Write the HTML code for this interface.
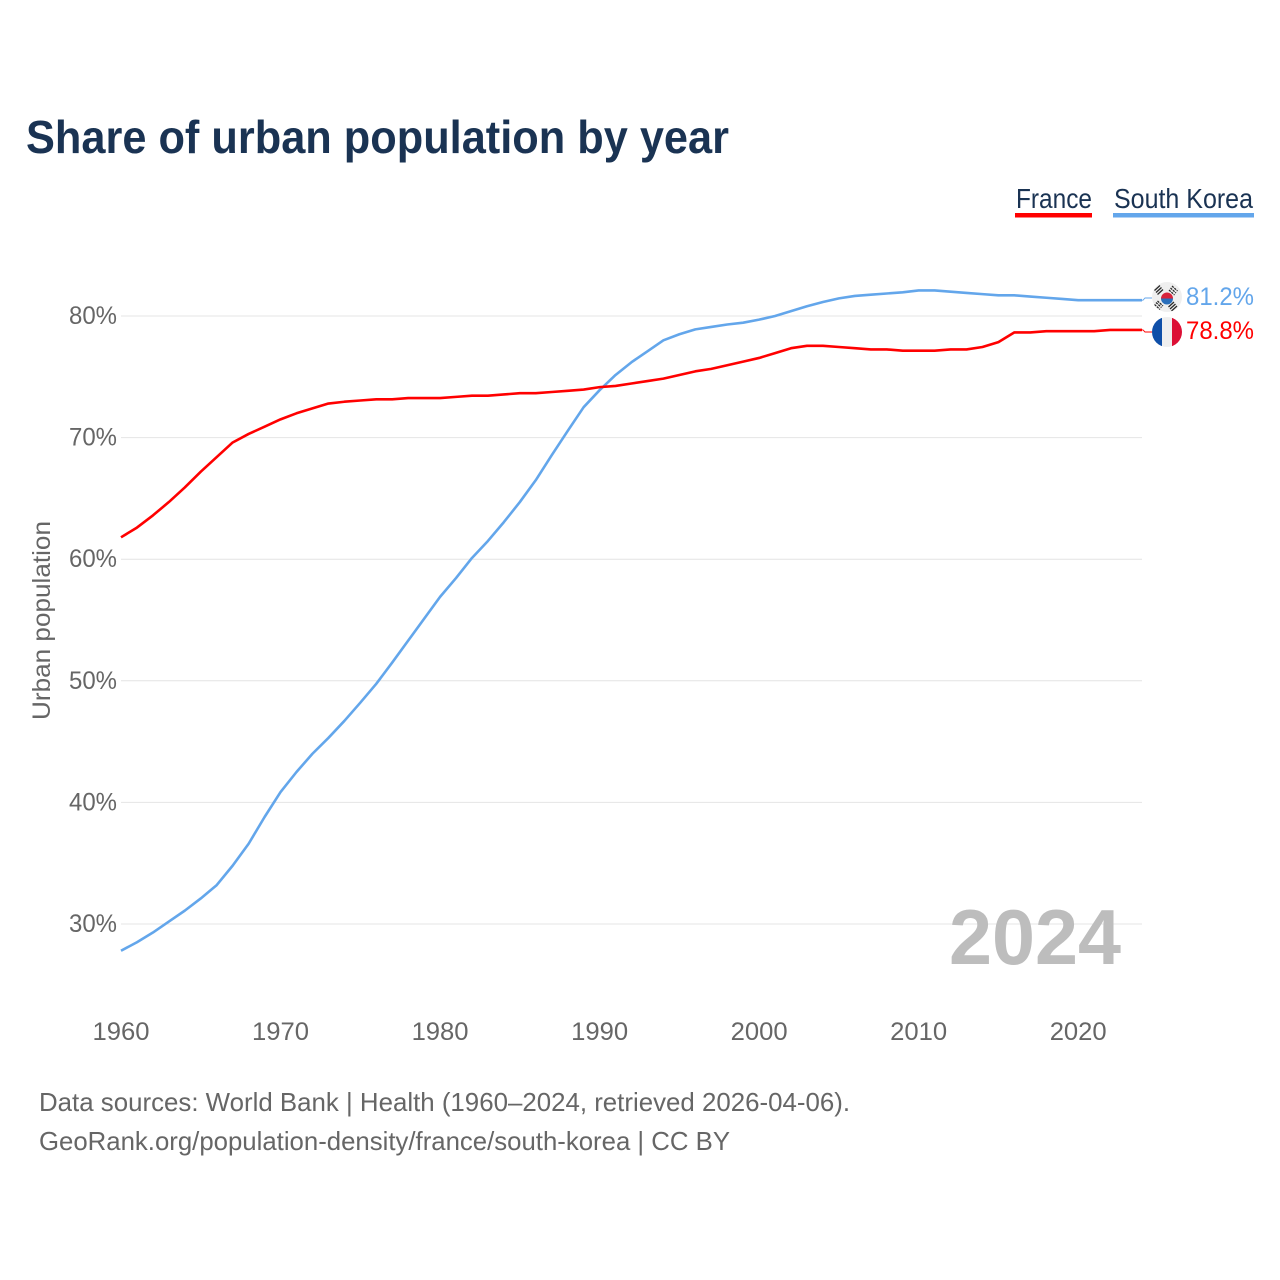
<!DOCTYPE html>
<html lang="en">
<head>
<meta charset="utf-8">
<title>Share of urban population by year</title>
<style>
html,body{margin:0;padding:0;background:#fff;}
svg{display:block;font-family:"Liberation Sans",sans-serif;}
</style>
</head>
<body>
<svg id="chart" width="1280" height="1280" viewBox="0 0 1280 1280" xmlns="http://www.w3.org/2000/svg">
<rect x="0" y="0" width="1280" height="1280" fill="#fff"/>
<text x="26" y="153" font-size="46" font-weight="700" fill="#1a3353" textLength="703" lengthAdjust="spacingAndGlyphs">Share of urban population by year</text>

<g>
<g>
<text x="1016" y="208" font-size="28" fill="#1a3353" textLength="76" lengthAdjust="spacingAndGlyphs">France</text>
<rect x="1015" y="213" width="77" height="4.5" fill="#ff0000"/>
</g>
<g>
<text x="1114" y="208" font-size="28" fill="#1a3353" textLength="139" lengthAdjust="spacingAndGlyphs">South Korea</text>
<rect x="1113" y="213" width="141" height="4.5" fill="#63a6eb"/>
</g>
</g>

<g id="grid"></g>
<g id="yticks"></g>
<g id="xticks"></g>
<text transform="translate(50,720) rotate(-90)" font-size="25" fill="#666" textLength="199" lengthAdjust="spacingAndGlyphs">Urban population</text>

<text x="949" y="964" font-size="78" font-weight="700" fill="#bdbdbd" textLength="172" lengthAdjust="spacingAndGlyphs">2024</text>

<g id="series"></g>

<g>
<clipPath id="krclip"><circle cx="1167" cy="297" r="15"/></clipPath>
<circle cx="1167" cy="297" r="15" fill="#efefef"/>
<g clip-path="url(#krclip)">
<path d="M1161 298.500a6 6 0 0 1 12 0z" fill="#d8243c"/>
<path d="M1161 298.500a6 6 0 0 0 12 0z" fill="#2a6fbb"/>
<g stroke="#2a2a2a" stroke-width="1.300">
<path d="M1155.500 291.500l5.500-5M1157 293.500l5.500-5M1158.500 295.500l5.500-5" transform="translate(-1 -1)"/>
<path d="M1171 287l5.500 5M1169.500 289l5.500 5M1168 291l5.500 5" transform="translate(1 -1)" stroke-dasharray="2.300 0.900"/>
<path d="M1155.500 303l5.500 5M1157 301l5.500 5M1158.500 299.500l5.500 5" transform="translate(-1 1.500)" stroke-dasharray="2.300 0.900"/>
<path d="M1168.500 309l5.500-5M1170 311l5.500-5M1171.500 313l5.500-5" transform="translate(0 -2)"/>
</g>
</g>
</g>
<g>
<clipPath id="frclip"><circle cx="1167" cy="332" r="15"/></clipPath>
<g clip-path="url(#frclip)">
<rect x="1152" y="317" width="10" height="30" fill="#0f4fa8"/>
<rect x="1162" y="317" width="10" height="30" fill="#efefef"/>
<rect x="1172" y="317" width="10" height="30" fill="#dc0f35"/>
</g>
</g>

<text x="1186" y="305" font-size="25" fill="#63a6eb" textLength="68" lengthAdjust="spacingAndGlyphs">81.2%</text>
<text x="1186" y="339" font-size="25" fill="#ff0000" textLength="68" lengthAdjust="spacingAndGlyphs">78.8%</text>

<text x="39" y="1111" font-size="26" fill="#666" textLength="811" lengthAdjust="spacingAndGlyphs">Data sources: World Bank | Health (1960–2024, retrieved 2026-04-06).</text>
<text x="39" y="1150" font-size="26" fill="#666" textLength="691" lengthAdjust="spacingAndGlyphs">GeoRank.org/population-density/france/south-korea | CC BY</text>
</svg>

<script>
const years = [1960,1961,1962,1963,1964,1965,1966,1967,1968,1969,1970,1971,1972,1973,1974,1975,1976,1977,1978,1979,1980,1981,1982,1983,1984,1985,1986,1987,1988,1989,1990,1991,1992,1993,1994,1995,1996,1997,1998,1999,2000,2001,2002,2003,2004,2005,2006,2007,2008,2009,2010,2011,2012,2013,2014,2015,2016,2017,2018,2019,2020,2021,2022,2023,2024];
const franceValues = [61.8,62.6,63.6,64.7,65.9,67.2,68.4,69.6,70.3,70.9,71.5,72.0,72.4,72.8,72.95,73.05,73.15,73.15,73.25,73.25,73.25,73.35,73.45,73.45,73.55,73.65,73.65,73.75,73.85,73.95,74.15,74.25,74.45,74.65,74.85,75.15,75.45,75.65,75.95,76.25,76.55,76.95,77.35,77.55,77.55,77.45,77.35,77.25,77.25,77.15,77.15,77.15,77.25,77.25,77.45,77.85,78.65,78.65,78.75,78.75,78.75,78.75,78.85,78.85,78.85];
const koreaValues = [27.8,28.5,29.3,30.2,31.1,32.1,33.2,34.8,36.6,38.8,40.85,42.5,44.0,45.3,46.7,48.2,49.75,51.5,53.3,55.1,56.9,58.45,60.1,61.5,63.05,64.7,66.5,68.55,70.55,72.5,73.9,75.15,76.2,77.1,78.0,78.5,78.9,79.1,79.3,79.45,79.7,80.0,80.4,80.8,81.15,81.45,81.65,81.75,81.85,81.95,82.1,82.1,82.0,81.9,81.8,81.7,81.7,81.6,81.5,81.4,81.3,81.3,81.3,81.3,81.3];
const yTickValues = [30,40,50,60,70,80];
const xTickValues = [1960,1970,1980,1990,2000,2010,2020];

const NS = 'http://www.w3.org/2000/svg';
function xScale(year){ return 121 + (year - 1960) * (1142 - 121) / 64; }
function yScale(value){ return 924 - (value - 30) * (924 - 316) / 50; }
function make(tag, parent, attrs){
  const el = document.createElementNS(NS, tag);
  for (const k in attrs) el.setAttribute(k, attrs[k]);
  parent.appendChild(el);
  return el;
}
const grid = document.getElementById('grid');
const yticks = document.getElementById('yticks');
const xticks = document.getElementById('xticks');
const series = document.getElementById('series');

yTickValues.forEach(function(v){
  const line = make('line', grid, {x1:121, x2:1142, y1:yScale(v), y2:yScale(v), stroke:'#e4e4e4', 'stroke-width':1});
  
  
  const t = make('text', yticks, {x:117, y:yScale(v)+8, 'text-anchor':'end', 'font-size':25, fill:'#666', textLength:48, lengthAdjust:'spacingAndGlyphs'});
  t.textContent = v + '%';
  
  
});
xTickValues.forEach(function(y){
  const t = make('text', xticks, {x:xScale(y), y:1040, 'text-anchor':'middle', 'font-size':25, fill:'#666', textLength:57, lengthAdjust:'spacingAndGlyphs'});
  t.textContent = String(y);
  
  
});

function drawSeries(values, color, name, flagY){
  const d = values.map(function(v,i){
    return (i ? 'L' : 'M') + xScale(years[i]).toFixed(2) + ' ' + yScale(v).toFixed(2);
  }).join('');
  const p = make('path', series, {d:d, fill:'none', stroke:color, 'stroke-width':2.6, 'stroke-linejoin':'round'});
  
  
  const lastY = yScale(values[values.length-1]);
  const endX = xScale(years[years.length-1]);
  const leader = make('path', series, {d:'M'+endX+' '+lastY+'L'+(endX+1)+' '+lastY+'L'+(endX+3)+' '+flagY+'L'+(endX+10)+' '+flagY, fill:'none', stroke:color, 'stroke-width':0.9});
  
  
}
drawSeries(koreaValues, '#63a6eb', 'south-korea', 298);
drawSeries(franceValues, '#ff0000', 'france', 332);
</script>
</body>
</html>
